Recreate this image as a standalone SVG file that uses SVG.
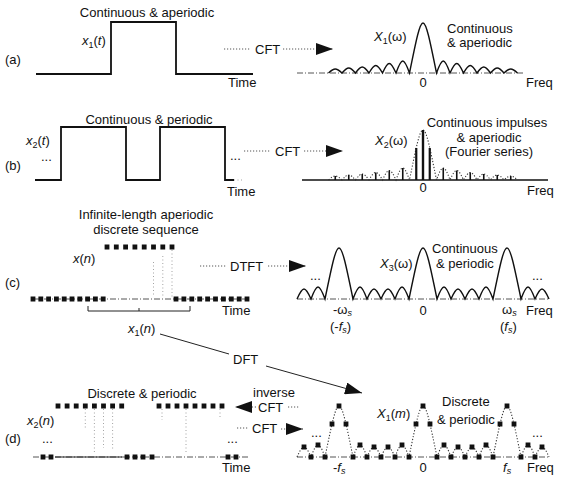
<svg xmlns="http://www.w3.org/2000/svg" width="569" height="486" viewBox="0 0 569 486">
<defs>
<style>
text{font-family:"Liberation Sans",Arial,Helvetica,sans-serif;font-size:13px;fill:#111}
.it{font-style:italic}
.sub{font-size:9px}
.sig{fill:none;stroke:#111;stroke-width:1.8;stroke-linejoin:miter}
.curve{fill:none;stroke:#111;stroke-width:1.4}
.dcurve{fill:none;stroke:#333;stroke-width:1.1;stroke-dasharray:1.2 1.8}
.base{fill:none;stroke:#555;stroke-width:1;stroke-dasharray:6 2 1 2}
.solidbase{fill:none;stroke:#111;stroke-width:1.6}
.dot{fill:none;stroke:#999;stroke-width:0.9;stroke-dasharray:1 2.5}
.conn{fill:none;stroke:#555;stroke-width:1;stroke-dasharray:1.2 1.8}
.line{fill:none;stroke:#222;stroke-width:1}
.imp{stroke:#111;stroke-width:1.6}
.sq{fill:#111}
</style>
<marker id="ah" markerWidth="18" markerHeight="12" refX="17" refY="6" orient="auto" markerUnits="userSpaceOnUse"><path d="M0,0 L17,6 L0,12 Z" fill="#111"/></marker>
<rect id="s" x="-2.4" y="-2.5" width="4.8" height="5"/>
<path id="sinc" d="M-94.5,0 C-88.78,-5.33 -86.72,-5.33 -81,0 C-75.28,-6.67 -73.22,-6.67 -67.5,0 C-61.78,-8 -59.72,-8 -54,0 C-48.28,-10 -46.22,-10 -40.5,0 C-34.78,-12.67 -32.72,-12.67 -27,0 C-21.28,-16 -19.22,-16 -13.5,0 C0,-66.67 0,-66.67 13.5,0 C19.22,-16 21.28,-16 27,0 C32.72,-12.67 34.78,-12.67 40.5,0 C46.22,-10 48.28,-10 54,0 C59.72,-8 61.78,-8 67.5,0 C73.22,-6.67 75.28,-6.67 81,0 C86.72,-5.33 88.78,-5.33 94.5,0"/>
<path id="psinc" d="M-126,0 C-120.06,-13.33 -117.94,-13.33 -112,0 C-106.06,-16 -103.94,-16 -98,0 C-84,-68 -84,-68 -70,0 C-64.06,-16 -61.94,-16 -56,0 C-50.06,-13.33 -47.94,-13.33 -42,0 C-36.06,-13.33 -33.94,-13.33 -28,0 C-22.06,-16 -19.94,-16 -14,0 C0,-68 0,-68 14,0 C19.94,-16 22.06,-16 28,0 C33.94,-13.33 36.06,-13.33 42,0 C47.94,-13.33 50.06,-13.33 56,0 C61.94,-16 64.06,-16 70,0 C84,-68 84,-68 98,0 C103.94,-16 106.06,-16 112,0 C117.94,-13.33 120.06,-13.33 126,0"/>
</defs>
<rect width="569" height="486" fill="#fff"/>

<g id="panel-labels">
<text x="5" y="64">(a)</text>
<text x="5" y="170">(b)</text>
<text x="5" y="287">(c)</text>
<text x="5" y="443">(d)</text>
</g>

<g id="a-time">
<text x="147" y="17" text-anchor="middle">Continuous &amp; aperiodic</text>
<polyline class="sig" points="36,74 111,74 111,22 176,22 176,74 253,74"/>
<text x="82" y="45"><tspan class="it">x</tspan><tspan class="sub" dy="3">1</tspan><tspan dy="-3">(</tspan><tspan class="it">t</tspan>)</text>
<text x="228" y="87">Time</text>
</g>

<g id="a-freq">
<line class="base" x1="297" y1="73" x2="524" y2="73"/>
<use href="#sinc" class="curve" transform="translate(423,73)"/>
<text x="374" y="41"><tspan class="it">X</tspan><tspan class="sub" dy="3">1</tspan><tspan dy="-3">(ω)</tspan></text>
<text x="447" y="33">Continuous</text>
<text x="447" y="47">&amp; aperiodic</text>
<text x="423" y="87" text-anchor="middle">0</text>
<text x="526" y="87">Freq</text>
</g>

<g id="b-time">
<text x="149" y="124" text-anchor="middle">Continuous &amp; periodic</text>
<polyline class="sig" points="35,180 61,180 61,127 126,127 126,180 160,180 160,127 225,127 225,180 234,180"/>
<line class="dot" x1="234" y1="180" x2="243" y2="180"/>
<text x="26" y="145"><tspan class="it">x</tspan><tspan class="sub" dy="3">2</tspan><tspan dy="-3">(</tspan><tspan class="it">t</tspan>)</text>
<text x="41" y="161">...</text>
<text x="230" y="160">...</text>
<text x="227" y="196">Time</text>
</g>

<g id="b-freq">
<line class="solidbase" x1="302" y1="180" x2="548" y2="180"/>
<use href="#sinc" class="dcurve" transform="translate(423,180)"/>
<g class="imp">
<line x1="423" y1="180" x2="423" y2="130" stroke-width="2.4"/>
<line x1="416.25" y1="180" x2="416.25" y2="148" stroke-width="2.2"/>
<line x1="429.75" y1="180" x2="429.75" y2="148" stroke-width="2.2"/>
<line x1="402.75" y1="180" x2="402.75" y2="168"/>
<line x1="443.25" y1="180" x2="443.25" y2="168"/>
<line x1="389.25" y1="180" x2="389.25" y2="170.5"/>
<line x1="456.75" y1="180" x2="456.75" y2="170.5"/>
<line x1="375.75" y1="180" x2="375.75" y2="172.5"/>
<line x1="470.25" y1="180" x2="470.25" y2="172.5"/>
<line x1="362.25" y1="180" x2="362.25" y2="174"/>
<line x1="483.75" y1="180" x2="483.75" y2="174"/>
<line x1="348.75" y1="180" x2="348.75" y2="175"/>
<line x1="497.25" y1="180" x2="497.25" y2="175"/>
<line x1="335.25" y1="180" x2="335.25" y2="176"/>
<line x1="510.75" y1="180" x2="510.75" y2="176"/>
</g>
<text x="375" y="145"><tspan class="it">X</tspan><tspan class="sub" dy="3">2</tspan><tspan dy="-3">(ω)</tspan></text>
<text x="487" y="127" text-anchor="middle">Continuous impulses</text>
<text x="489" y="142" text-anchor="middle">&amp; aperiodic</text>
<text x="489" y="156" text-anchor="middle">(Fourier series)</text>
<text x="423" y="192" text-anchor="middle">0</text>
<text x="527" y="195">Freq</text>
</g>

<g id="c-time">
<text x="146" y="219" text-anchor="middle">Infinite-length aperiodic</text>
<text x="146" y="234" text-anchor="middle">discrete sequence</text>
<text x="73" y="263"><tspan class="it">x</tspan>(<tspan class="it">n</tspan>)</text>
<line class="base" x1="33" y1="299" x2="250" y2="299"/>
<line class="dot" x1="153.5" y1="262" x2="153.5" y2="297"/>
<line class="dot" x1="162.8" y1="256" x2="162.8" y2="297"/>
<line class="dot" x1="172" y1="250" x2="172" y2="297"/>
<g class="sq">
<use href="#s" x="107" y="247"/><use href="#s" x="116.3" y="247"/><use href="#s" x="125.6" y="247"/><use href="#s" x="134.9" y="247"/><use href="#s" x="144.2" y="247"/><use href="#s" x="153.5" y="247"/><use href="#s" x="162.8" y="247"/><use href="#s" x="172" y="247"/>
<use href="#s" x="33" y="299"/><use href="#s" x="40.8" y="299"/><use href="#s" x="48.6" y="299"/><use href="#s" x="56.4" y="299"/><use href="#s" x="64.2" y="299"/><use href="#s" x="72" y="299"/><use href="#s" x="79.8" y="299"/><use href="#s" x="87.6" y="299"/><use href="#s" x="95.4" y="299"/><use href="#s" x="103.2" y="299"/>
<use href="#s" x="176" y="299"/><use href="#s" x="183.9" y="299"/><use href="#s" x="191.8" y="299"/><use href="#s" x="199.7" y="299"/><use href="#s" x="207.6" y="299"/><use href="#s" x="215.5" y="299"/><use href="#s" x="223.4" y="299"/><use href="#s" x="231.3" y="299"/><use href="#s" x="239.2" y="299"/><use href="#s" x="247" y="299"/>
</g>
<path class="line" d="M88,306 L88,311 L190,311 L190,306 M139,311 L139,308"/>
<text x="222" y="315">Time</text>
<text x="128" y="333"><tspan class="it">x</tspan><tspan class="sub" dy="3">1</tspan><tspan dy="-3">(</tspan><tspan class="it">n</tspan>)</text>
</g>

<g id="c-freq">
<line class="base" x1="297" y1="299" x2="549" y2="299"/>
<use href="#psinc" class="curve" transform="translate(423,299)"/>
<text x="380" y="268"><tspan class="it">X</tspan><tspan class="sub" dy="3">3</tspan><tspan dy="-3">(ω)</tspan></text>
<text x="432" y="253">Continuous</text>
<text x="436" y="268">&amp; periodic</text>
<text x="310" y="280">...</text>
<text x="532" y="280">...</text>
<text x="333" y="314">-ω<tspan class="sub it" dy="2">s</tspan></text>
<text x="423" y="315" text-anchor="middle">0</text>
<text x="502" y="314">ω<tspan class="sub it" dy="2">s</tspan></text>
<text x="526" y="315">Freq</text>
<text x="330" y="331">(-<tspan class="it">f</tspan><tspan class="sub it" dy="2">s</tspan><tspan dy="-2">)</tspan></text>
<text x="500" y="331">(<tspan class="it">f</tspan><tspan class="sub it" dy="2">s</tspan><tspan dy="-2">)</tspan></text>
</g>

<g id="d-time">
<text x="142" y="398" text-anchor="middle">Discrete &amp; periodic</text>
<text x="27" y="425"><tspan class="it">x</tspan><tspan class="sub" dy="3">2</tspan><tspan dy="-3">(</tspan><tspan class="it">n</tspan>)</text>
<text x="42" y="443">...</text>
<text x="227" y="443">...</text>
<line class="base" x1="33" y1="457" x2="250" y2="457"/>
<line class="line" x1="55" y1="457" x2="122" y2="457"/>
<line class="dot" x1="85.3" y1="409" x2="85.3" y2="430"/>
<line class="dot" x1="94.4" y1="409" x2="94.4" y2="452"/>
<line class="dot" x1="103.5" y1="409" x2="103.5" y2="448"/>
<line class="dot" x1="112.6" y1="409" x2="112.6" y2="450"/>
<line class="dot" x1="162" y1="409" x2="162" y2="420"/>
<line class="dot" x1="186" y1="409" x2="186" y2="453"/>
<line class="dot" x1="220" y1="409" x2="220" y2="417"/>
<g class="sq">
<use href="#s" x="58" y="406"/><use href="#s" x="67.1" y="406"/><use href="#s" x="76.2" y="406"/><use href="#s" x="85.3" y="406"/><use href="#s" x="94.4" y="406"/><use href="#s" x="103.5" y="406"/><use href="#s" x="112.6" y="406"/><use href="#s" x="121.7" y="406"/>
<use href="#s" x="159" y="406"/><use href="#s" x="168" y="406"/><use href="#s" x="177" y="406"/><use href="#s" x="186" y="406"/><use href="#s" x="195" y="406"/><use href="#s" x="204" y="406"/><use href="#s" x="213" y="406"/><use href="#s" x="222" y="406"/>
<use href="#s" x="43" y="457"/><use href="#s" x="51" y="457"/>
<use href="#s" x="127" y="457"/><use href="#s" x="135" y="457"/><use href="#s" x="143" y="457"/><use href="#s" x="152" y="457"/>
<use href="#s" x="228" y="457"/><use href="#s" x="236" y="457"/>
</g>
<text x="222" y="472">Time</text>
</g>

<g id="d-freq">
<line class="base" x1="297" y1="457" x2="549" y2="457"/>
<use href="#psinc" class="dcurve" transform="translate(423,457)"/>
<g class="sq">
<use href="#s" x="304" y="447"/><use href="#s" x="311" y="457"/><use href="#s" x="318" y="445"/><use href="#s" x="325" y="457"/><use href="#s" x="332" y="424"/><use href="#s" x="339" y="406"/><use href="#s" x="346" y="424"/><use href="#s" x="353" y="457"/><use href="#s" x="360" y="445"/><use href="#s" x="367" y="457"/><use href="#s" x="374" y="447"/><use href="#s" x="381" y="457"/><use href="#s" x="388" y="447"/><use href="#s" x="395" y="457"/><use href="#s" x="402" y="445"/><use href="#s" x="409" y="457"/><use href="#s" x="416" y="424"/><use href="#s" x="423" y="406"/><use href="#s" x="430" y="424"/><use href="#s" x="437" y="457"/><use href="#s" x="444" y="445"/><use href="#s" x="451" y="457"/><use href="#s" x="458" y="447"/><use href="#s" x="465" y="457"/><use href="#s" x="472" y="447"/><use href="#s" x="479" y="457"/><use href="#s" x="486" y="445"/><use href="#s" x="493" y="457"/><use href="#s" x="500" y="424"/><use href="#s" x="507" y="406"/><use href="#s" x="514" y="424"/><use href="#s" x="521" y="457"/><use href="#s" x="528" y="445"/><use href="#s" x="535" y="457"/><use href="#s" x="542" y="447"/>
</g>
<text x="377" y="418"><tspan class="it">X</tspan><tspan class="sub" dy="3">1</tspan><tspan dy="-3">(</tspan><tspan class="it">m</tspan>)</text>
<text x="442" y="406">Discrete</text>
<text x="437" y="424">&amp; periodic</text>
<text x="311" y="437">...</text>
<text x="532" y="437">...</text>
<text x="333" y="472">-<tspan class="it">f</tspan><tspan class="sub it" dy="2">s</tspan></text>
<text x="423" y="472" text-anchor="middle">0</text>
<text x="503" y="472"><tspan class="it">f</tspan><tspan class="sub it" dy="2">s</tspan></text>
<text x="527" y="472">Freq</text>
</g>

<g id="connectors">
<line class="conn" x1="224" y1="49" x2="250" y2="49"/>
<text x="255" y="54">CFT</text>
<line class="conn" x1="283" y1="49" x2="333" y2="49" marker-end="url(#ah)"/>

<line class="conn" x1="244" y1="151" x2="271" y2="151"/>
<text x="275" y="156">CFT</text>
<line class="conn" x1="304" y1="151" x2="343" y2="151" marker-end="url(#ah)"/>

<line class="conn" x1="200" y1="266" x2="227" y2="266"/>
<text x="230" y="271">DTFT</text>
<line class="conn" x1="268" y1="266" x2="306" y2="266" marker-end="url(#ah)"/>

<line class="line" x1="160" y1="334" x2="229" y2="354"/>
<text x="233" y="364">DFT</text>
<line class="line" x1="266" y1="366" x2="362" y2="393" marker-end="url(#ah)"/>

<text x="253" y="397">inverse</text>
<line class="conn" x1="288" y1="407" x2="300" y2="407"/>
<text x="258" y="412">CFT</text>
<line class="conn" x1="256" y1="407" x2="235" y2="407" marker-end="url(#ah)"/>

<line class="conn" x1="237" y1="428" x2="248" y2="428"/>
<text x="252" y="433">CFT</text>
<line class="conn" x1="281" y1="429" x2="303" y2="429" marker-end="url(#ah)"/>
</g>
</svg>
